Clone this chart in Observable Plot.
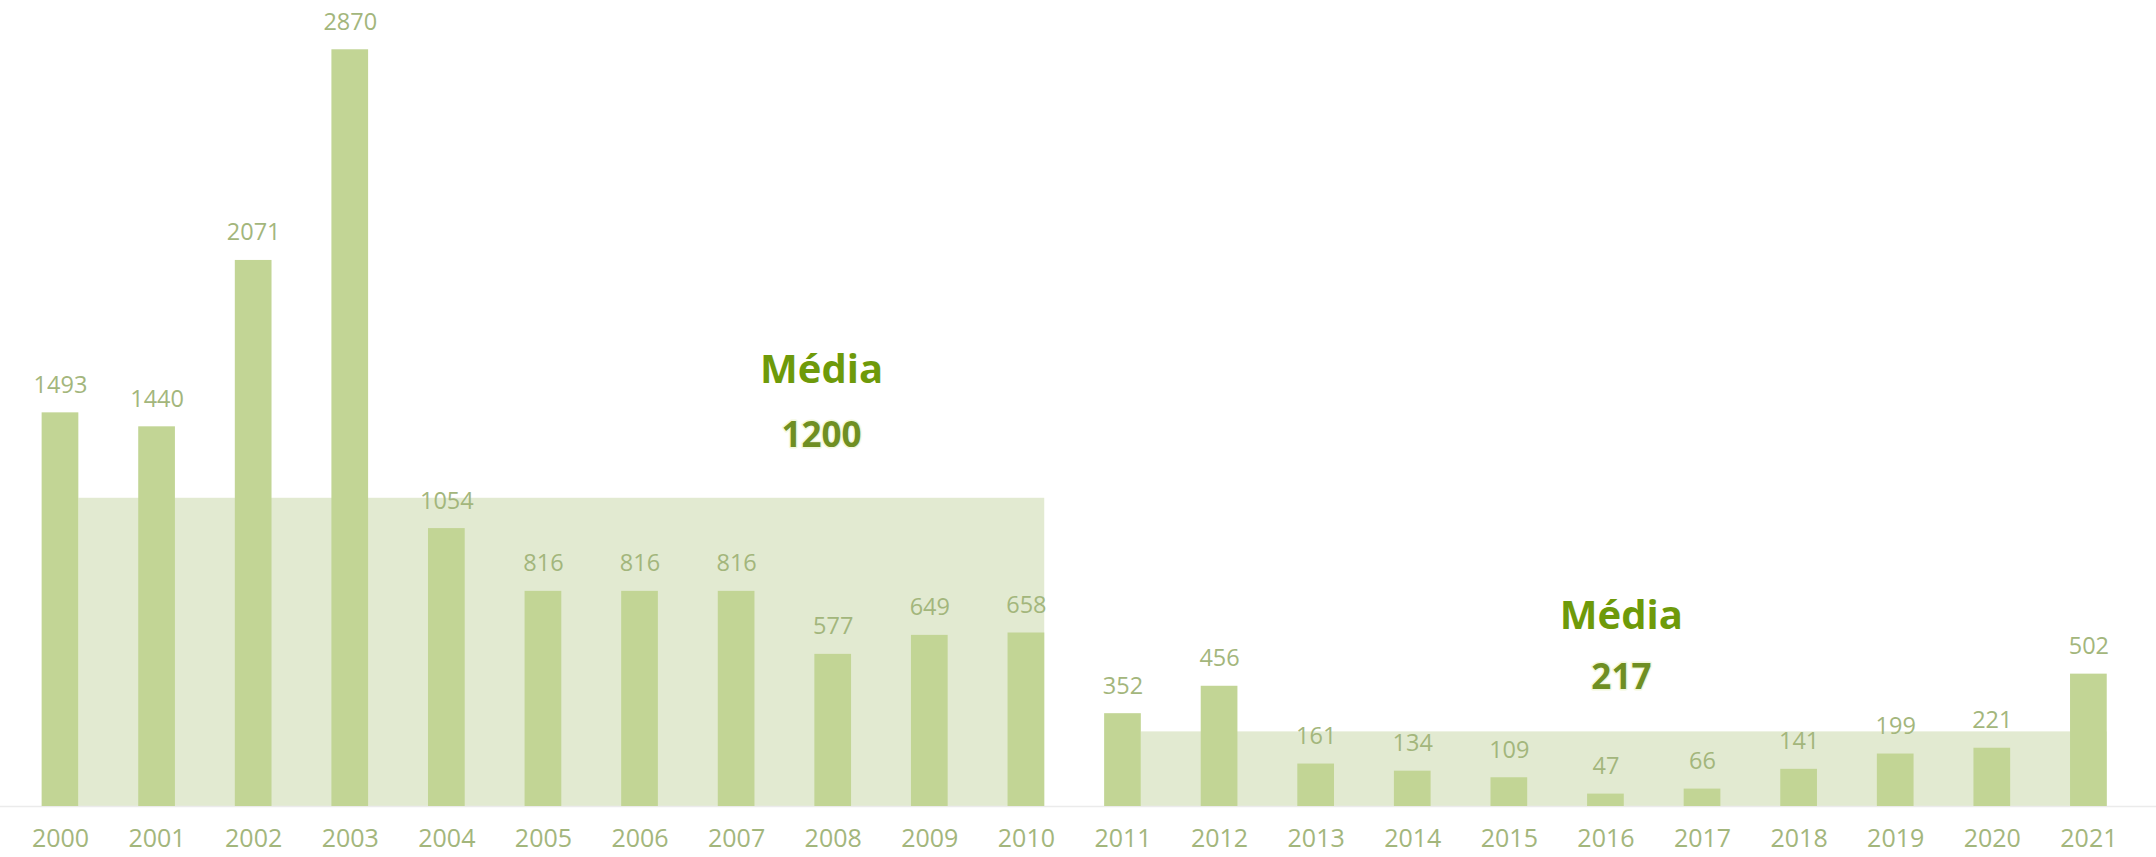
<!DOCTYPE html>
<html>
<head>
<meta charset="utf-8">
<script src="https://cdn.jsdelivr.net/npm/d3@7"></script>
<script src="https://cdn.jsdelivr.net/npm/@observablehq/plot@0.6"></script>
<style>
  html, body { margin: 0; padding: 0; background: #ffffff; }
  #chart svg { display: block; }
</style>
</head>
<body>
<div id="chart"></div>
<script>
// Data
const years = [2000, 2001, 2002, 2003, 2004, 2005, 2006, 2007, 2008, 2009, 2010,
               2011, 2012, 2013, 2014, 2015, 2016, 2017, 2018, 2019, 2020, 2021];
const values = [1493, 1440, 2071, 2870, 1054, 816, 816, 816, 577, 649, 658,
                352, 456, 161, 134, 109, 47, 66, 141, 199, 221, 502];

// Average periods (band heights as drawn in the picture)
const periodStart = [2000, 2011];
const periodEnd = [2010, 2021];
const bandLevel = [1169, 283];
const avgLabel = ["1200", "217"];
const avgTitle = ["Média", "Média"];

const data = years.map((y, i) => ({year: y, value: values[i]}));
const bands = periodStart.map((s, i) => ({start: s, end: periodEnd[i], level: bandLevel[i]}));

const half = 0.19;
const font = "'Open Sans', sans-serif";
const barColor = "#c2d595";
const bandColor = "#e2ead1";
const labelColor = "#a3b67c";

const annot1 = [{x: 2007.88, t: avgTitle[0], v: avgLabel[0]}];
const annot2 = [{x: 2016.16, t: avgTitle[1], v: avgLabel[1]}];

const chart = Plot.plot({
  width: 2156,
  height: 857,
  marginLeft: 0,
  marginRight: 0,
  marginTop: 15,
  marginBottom: 51,
  style: {fontFamily: font, background: "#ffffff"},
  x: {type: "linear", domain: [1999.379, 2021.70], axis: null},
  y: {domain: [0, 3000], axis: null},
  marks: [
    Plot.rect(bands, {x1: d => d.start + half, x2: d => d.end + half, y1: 0, y2: "level", fill: bandColor}),
    Plot.ruleY([0], {stroke: "#ebebeb", strokeWidth: 1.5}),
    Plot.rect(data, {x1: d => d.year - half, x2: d => d.year + half, y1: 0, y2: "value", fill: barColor}),
    Plot.text(data, {x: "year", y: "value", text: d => String(d.value), dy: -20, lineAnchor: "bottom",
                     fontSize: 23.5, fill: labelColor, fontFamily: font}),
    Plot.axisX({ticks: years, tickFormat: d => String(d), tickSize: 0, tickPadding: 23, fontSize: 25,
                color: labelColor, fill: labelColor, fontFamily: font, anchor: "bottom", label: null}),
    // Average annotations
    Plot.text(annot1, {x: "x", y: 1605, text: "t", lineAnchor: "bottom", fontSize: 40, fontWeight: "bold", fill: "#6e9a0a", fontFamily: font}),
    Plot.text(annot1, {x: "x", y: 1362, text: "v", lineAnchor: "bottom", fontSize: 35, fontWeight: "bold", fill: "#6f8f22",
                       stroke: "#f3f8dc", strokeWidth: 3, fontFamily: font}),
    Plot.text(annot2, {x: "x", y: 675, text: "t", lineAnchor: "bottom", fontSize: 40, fontWeight: "bold", fill: "#6e9a0a", fontFamily: font}),
    Plot.text(annot2, {x: "x", y: 444, text: "v", lineAnchor: "bottom", fontSize: 35, fontWeight: "bold", fill: "#6f8f22",
                       stroke: "#f3f8dc", strokeWidth: 3, fontFamily: font})
  ]
});
document.getElementById("chart").appendChild(chart);
</script>
</body>
</html>
